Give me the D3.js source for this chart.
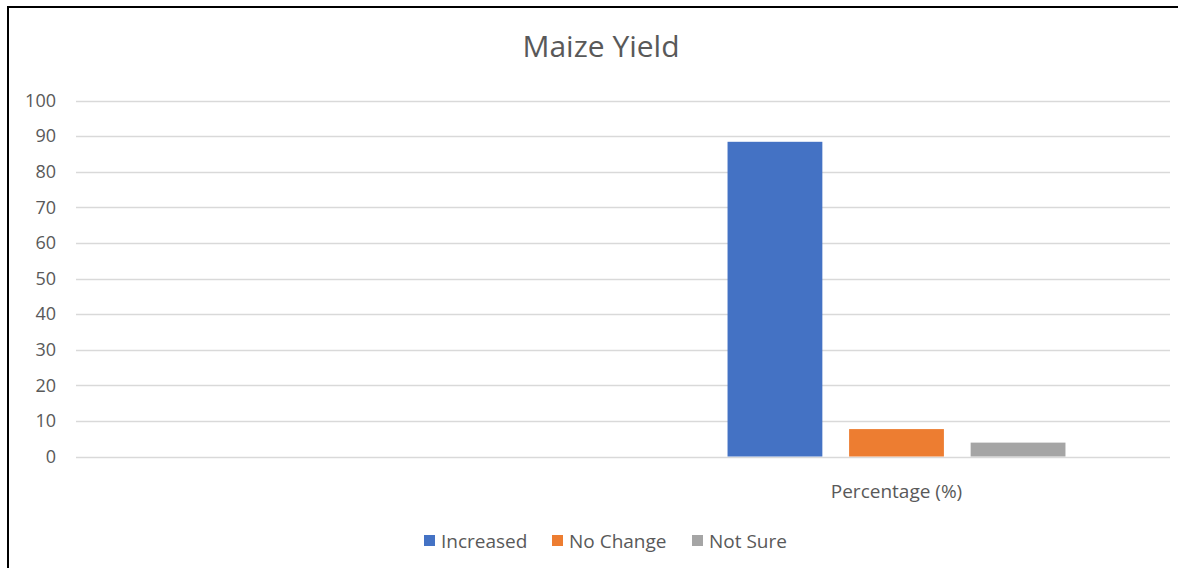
<!DOCTYPE html>
<html>
<head>
<meta charset="utf-8">
<script src="https://cdn.jsdelivr.net/npm/d3@7"></script>
<style>
  body { margin: 0; background: #fff; }
  svg { display: block; font-family: "Open Sans", "Noto Sans", sans-serif; }
</style>
</head>
<body>
<script>
var categories = ["", "Percentage (%)"];
var seriesNames = ["Increased", "No Change", "Not Sure"];
var increased = [null, 88.4];
var noChange = [null, 7.7];
var notSure = [null, 3.9];
var yTicks = [0, 10, 20, 30, 40, 50, 60, 70, 80, 90, 100];
var colors = ["#4472c4", "#ed7d31", "#a5a5a5"];

var w = 1178, h = 568;
var svg = d3.select("body").append("svg").attr("width", w).attr("height", h);

// outer frame (only left/top visible in the crop)
svg.append("rect")
    .attr("x", 8).attr("y", 7)
    .attr("width", 1200).attr("height", 600)
    .attr("fill", "#fff").attr("stroke", "#000").attr("stroke-width", 2);

var plotLeft = 76, plotRight = 1170, plotTop = 100.5, plotBottom = 456.5;

var y = d3.scaleLinear().domain([0, 100]).range([plotBottom, plotTop]);
var x0 = d3.scaleBand().domain(categories).range([plotLeft, plotRight]).padding(0);
var x1 = d3.scaleBand().domain(seriesNames).range([0, x0.bandwidth()])
    .paddingInner(0.22).paddingOuter(0.86);

var values = [increased, noChange, notSure];
var rows = categories.map(function(c, i) {
  return { cat: c, vals: seriesNames.map(function(s, j) { return { key: s, value: values[j][i], color: colors[j] }; }) };
});

// gridlines
svg.append("g")
  .selectAll("line")
  .data(yTicks)
  .enter().append("line")
    .attr("x1", plotLeft).attr("x2", plotRight)
    .attr("y1", function(d) { return Math.round(y(d)) + 0.5; })
    .attr("y2", function(d) { return Math.round(y(d)) + 0.5; })
    .attr("stroke", "#d9d9d9").attr("stroke-width", 1.5);

// y labels
svg.append("g")
  .selectAll("text")
  .data(yTicks)
  .enter().append("text")
    .attr("x", 56)
    .attr("y", function(d) { return y(d); })
    .attr("dy", "0.35em")
    .attr("text-anchor", "end")
    .attr("font-size", 18)
    .attr("fill", "#595959")
    .text(function(d) { return d; });

// bars
svg.append("g")
  .selectAll("g")
  .data(rows)
  .enter().append("g")
    .attr("transform", function(d) { return "translate(" + x0(d.cat) + ",0)"; })
  .selectAll("rect")
  .data(function(d) { return d.vals.filter(function(v) { return v.value != null; }); })
  .enter().append("rect")
    .attr("x", function(d) { return x1(d.key); })
    .attr("y", function(d) { return y(d.value); })
    .attr("width", x1.bandwidth())
    .attr("height", function(d) { return y(0) - y(d.value); })
    .attr("fill", function(d) { return d.color; });

// category labels
svg.append("g")
  .selectAll("text")
  .data(categories)
  .enter().append("text")
    .attr("x", function(d) { return x0(d) + x0.bandwidth() / 2; })
    .attr("y", 498)
    .attr("text-anchor", "middle")
    .attr("font-size", 19)
    .attr("fill", "#595959")
    .text(function(d) { return d; });

// title
svg.append("text")
  .attr("x", 601).attr("y", 57)
  .attr("text-anchor", "middle")
  .attr("font-size", 30)
  .attr("fill", "#595959")
  .text("Maize Yield");

// legend
var legendX = [424, 552, 692];
var lg = svg.append("g").selectAll("g")
  .data(seriesNames)
  .enter().append("g")
    .attr("transform", function(d, i) { return "translate(" + legendX[i] + ",535)"; });
lg.append("rect").attr("width", 11).attr("height", 11)
  .attr("fill", function(d, i) { return colors[i]; });
lg.append("text").attr("x", 17).attr("y", 13)
  .attr("font-size", 19).attr("fill", "#595959")
  .text(function(d) { return d; });
</script>
</body>
</html>
